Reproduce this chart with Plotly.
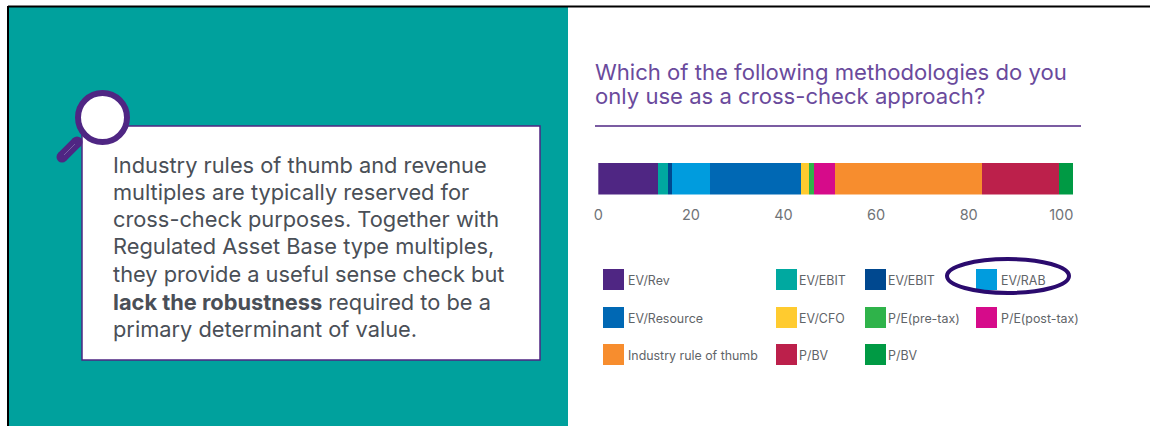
import plotly.graph_objects as go

W, H = 1150, 426

# Survey results
methods = ["EV/Rev", "EV/EBIT", "EV/EBIT", "EV/RAB", "EV/Resource", "EV/CFO",
           "P/E(pre-tax)", "P/E(post-tax)", "Industry rule of thumb", "P/BV", "P/BV"]
shares = [13.0, 2.0, 1.0, 8.2, 19.6, 1.7, 1.1, 4.5, 31.7, 16.6, 3.2]
colors = ["#4f2683", "#00a9a0", "#00488f", "#009cde", "#0068b4", "#ffcb2f",
          "#2fb34a", "#d60b8a", "#f78d2e", "#bc204b", "#009a44"]
tick_values = [0, 20, 40, 60, 80, 100]

title_lines = ["Which of the following methodologies do you",
               "only use as a cross-check approach?"]
callout_lines = ["Industry rules of thumb and revenue",
                 "multiples are typically reserved for",
                 "cross-check purposes. Together with",
                 "Regulated Asset Base type multiples,",
                 "they provide a useful sense check but",
                 "<b>lack the robustness</b> required to be a",
                 "primary determinant of value."]
callout_rows = [165, 192, 219, 246, 274, 302, 329]

# Legend grid: column of each entry follows the swatch columns, row by row
legend_cols = [(603, 628), (776, 799), (865, 888), (976, 1001)]
legend_rows = [279.5, 317.5, 354.5]
legend_slots = [(0, 0), (1, 0), (2, 0), (3, 0),
                (0, 1), (1, 1), (2, 1), (3, 1),
                (0, 2), (1, 2), (2, 2)]

PURPLE = "#4f2683"
TEAL = "#00a19d"
BODY_FONT = "Inter"


def px(x):
    return x / W


def py(y):
    return 1 - y / H


def rect(x0, y0, x1, y1, fill, line=None, width=0):
    return dict(type="rect", xref="paper", yref="paper", x0=px(x0), x1=px(x1),
                y0=py(y1), y1=py(y0), fillcolor=fill, layer="below",
                line=dict(color=line or fill, width=width))


def oval(x0, y0, x1, y1, fill, line, width, layer="above"):
    return dict(type="circle", xref="paper", yref="paper", x0=px(x0), x1=px(x1),
                y0=py(y1), y1=py(y0), fillcolor=fill, layer=layer,
                line=dict(color=line, width=width))


def stroke(x0, y0, x1, y1, color, width, layer="below"):
    return dict(type="line", xref="paper", yref="paper", x0=px(x0), x1=px(x1),
                y0=py(y0), y1=py(y1), layer=layer,
                line=dict(color=color, width=width))


def label(x, y, text, size, color, family=BODY_FONT):
    return dict(xref="paper", yref="paper", x=px(x), y=py(y), text=text,
                showarrow=False, xanchor="left", yanchor="middle",
                xshift=-2, font=dict(size=size, color=color, family=family))


fig = go.Figure()
for name, share, color in zip(methods, shares, colors):
    fig.add_trace(go.Bar(x=[share], y=[0], name=name, orientation="h", width=1,
                         marker=dict(color=color, line=dict(width=0)),
                         showlegend=False))

shapes = [
    rect(8.5, 7, W, H, "#ffffff"),
    rect(8.5, 7, 568, H, TEAL),
    rect(82, 126, 540, 360, "#ffffff", PURPLE, 1.5),
    # Frame edges
    stroke(8, 6, 8, H, "#000000", 2),
    stroke(8, 6.5, W, 6.5, "#000000", 2),
    # Rule under the question
    stroke(595, 126, 1081, 126, PURPLE, 1.5),
    # Magnifying glass: handle with rounded ends, then the lens
    stroke(62, 157, 77, 142, PURPLE, 11, "above"),
    oval(56.5, 151.5, 67.5, 162.5, PURPLE, PURPLE, 0),
    oval(71.5, 136.5, 82.5, 147.5, PURPLE, PURPLE, 0),
    stroke(64, 155, 75, 144, "#7a5fa6", 1, "above"),
    oval(78, 93, 127, 142, "#ffffff", PURPLE, 6),
    # Highlight round the EV/RAB entry
    oval(947, 259, 1069, 293, "rgba(0,0,0,0)", "#2b0b6e", 4),
]

annotations = []
for row, line in zip((72, 96), title_lines):
    annotations.append(label(595, row, line, 22.1, "#6a4a9c"))
for row, line in zip(callout_rows, callout_lines):
    annotations.append(label(113, row, line, 21.8, "#4a4f57"))

for name, color, (col, row) in zip(methods, colors, legend_slots):
    swatch_x, text_x = legend_cols[col]
    y = legend_rows[row]
    shapes.append(rect(swatch_x, y - 10.5, swatch_x + 21, y + 10.5, color))
    annotations.append(label(text_x, y + 1, name, 12.4, "#5f6468"))

# Axis runs at 4.63 px per percentage point from x = 598
x_start = 598.3
x_right = 1085
fig.update_layout(
    width=W, height=H, margin=dict(l=0, r=0, t=0, b=0, autoexpand=False),
    paper_bgcolor="#ffffff", plot_bgcolor="rgba(0,0,0,0)",
    barmode="stack", showlegend=False, shapes=shapes, annotations=annotations,
    xaxis=dict(domain=[px(x_start), px(x_right)], range=[0, (x_right - x_start) / 4.63],
               tickvals=tick_values, showgrid=False, zeroline=False, showline=False,
               ticks="outside", ticklen=7, tickcolor="rgba(0,0,0,0)",
               tickfont=dict(size=14.5, color="#6f7377", family=BODY_FONT)),
    yaxis=dict(domain=[py(194.5), py(163)], range=[-0.5, 0.5], visible=False,
               fixedrange=True),
)

fig.write_html("out.html", config=dict(displayModeBar=False))
